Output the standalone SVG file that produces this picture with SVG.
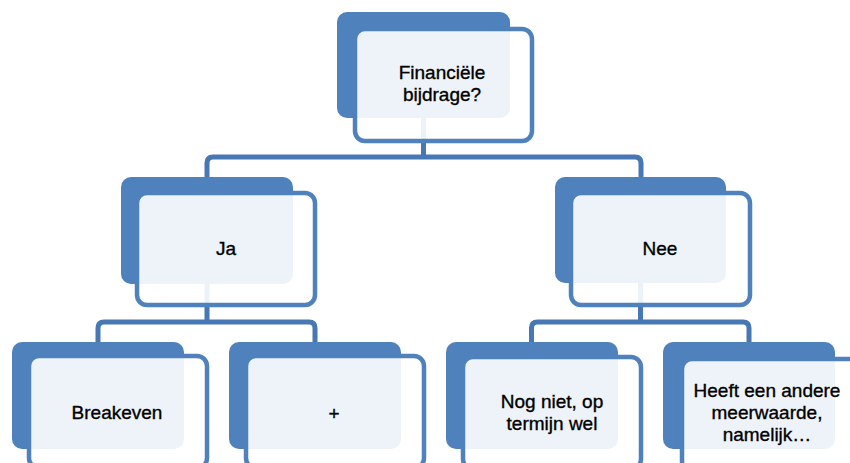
<svg xmlns="http://www.w3.org/2000/svg" width="850" height="463" viewBox="0 0 850 463">
<style>
.bg{fill:#ffffff}
.back{fill:#4F81BD}
.front{fill:#ffffff;fill-opacity:0.9;stroke:#4F81BD;stroke-width:4.5}
.conn{fill:none;stroke:#4878B4;stroke-width:5}
.lbl{font-family:"Liberation Sans",Arial,sans-serif;font-size:19px;fill:#000000;stroke:#000000;stroke-width:0.35;text-anchor:middle}
</style>
<rect class="bg" x="0" y="0" width="850" height="463"/>
<g id="connectors">
<path class="conn" d="M423.5,118 V157 M207,177 V163 Q207,157 213,157 H635 Q641,157 641,163 V177"/>
<path class="conn" d="M207,284 V322 M98,342 V328 Q98,322 104,322 H309 Q315,322 315,328 V342"/>
<path class="conn" d="M640.5,283 V322 M531.5,342 V328 Q531.5,322 537.5,322 H743 Q749,322 749,328 V342"/>
</g>
<g id="node-top">
<rect class="back" x="337" y="12" width="173" height="106" rx="10"/>
<rect class="front" x="355" y="29" width="177" height="112" rx="10"/>
<text class="lbl" x="442" y="79">Financiële</text>
<text class="lbl" x="442" y="101">bijdrage?</text>
</g>
<g id="node-ja">
<rect class="back" x="121" y="177" width="172" height="107" rx="10"/>
<rect class="front" x="137" y="193" width="178" height="112" rx="10"/>
<text class="lbl" x="226" y="255">Ja</text>
</g>
<g id="node-nee">
<rect class="back" x="555" y="177" width="171" height="106" rx="10"/>
<rect class="front" x="571" y="193" width="179" height="112" rx="10"/>
<text class="lbl" x="660" y="255">Nee</text>
</g>
<g id="node-breakeven">
<rect class="back" x="12" y="342" width="172" height="107" rx="10"/>
<rect class="front" x="29" y="356" width="178" height="112" rx="10"/>
<text class="lbl" x="117" y="419">Breakeven</text>
</g>
<g id="node-plus">
<rect class="back" x="229" y="342" width="172" height="107" rx="10"/>
<rect class="front" x="246" y="356" width="178" height="112" rx="10"/>
<text class="lbl" x="334" y="420">+</text>
</g>
<g id="node-nognniet">
<rect class="back" x="446" y="342" width="172" height="107" rx="10"/>
<rect class="front" x="463" y="357" width="178" height="112" rx="10"/>
<text class="lbl" x="552" y="408">Nog niet, op</text>
<text class="lbl" x="552" y="430">termijn wel</text>
</g>
<g id="node-heeft">
<rect class="back" x="663" y="342" width="172" height="107" rx="10"/>
<rect class="front" x="682" y="359" width="178" height="112" rx="10"/>
<text class="lbl" x="767" y="397">Heeft een andere</text>
<text class="lbl" x="767" y="419">meerwaarde,</text>
<text class="lbl" x="767" y="441">namelijk…</text>
</g>
</svg>
